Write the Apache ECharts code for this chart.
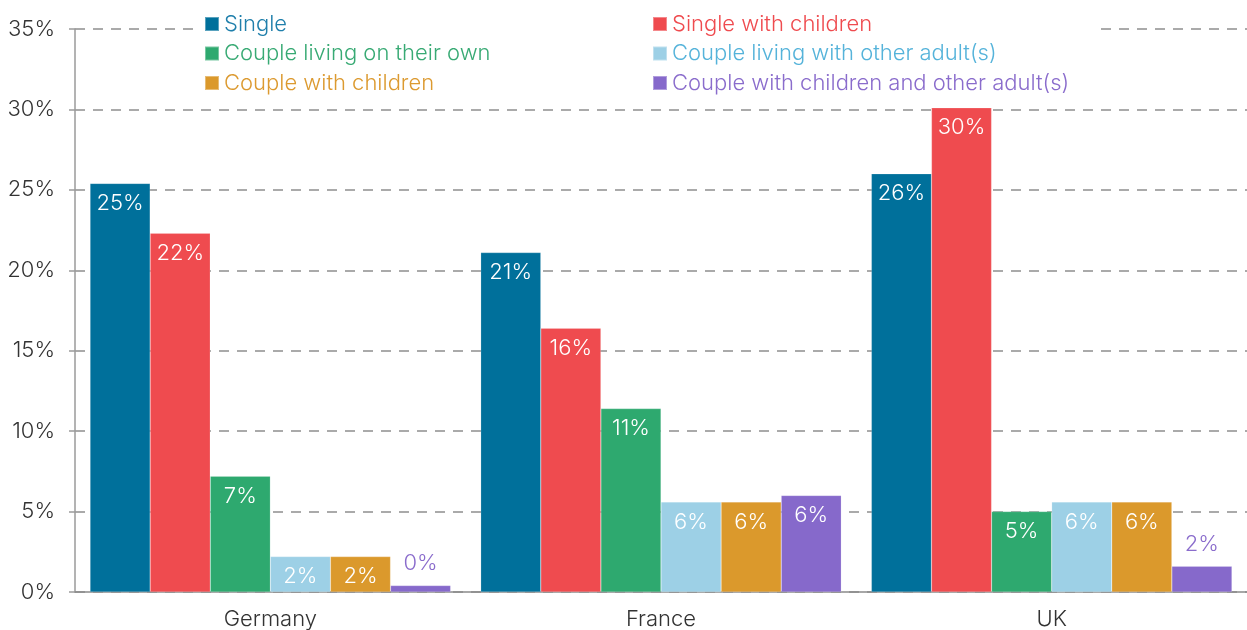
<!DOCTYPE html>
<html>
<head>
<meta charset="utf-8">
<title>Household types by country</title>
<script src="https://cdn.jsdelivr.net/npm/echarts@6/dist/echarts.min.js"></script>
<style>
  html, body { margin: 0; padding: 0; background: #fff; }
  #chart { width: 1247px; height: 630px; }
</style>
</head>
<body>
<div id="chart"></div>
<script>
// Share of households by type, per country (%)
const countries = ['Germany', 'France', 'UK'];
const seriesNames = [
  'Single',
  'Single with children',
  'Couple living on their own',
  'Couple living with other adult(s)',
  'Couple with children',
  'Couple with children and other adult(s)'
];
const single             = [25.4, 21.1, 26.0];
const singleWithChildren = [22.3, 16.4, 30.1];
const coupleOwn          = [7.2, 11.4, 5.0];
const coupleOtherAdults  = [2.2, 5.6, 5.6];
const coupleChildren     = [2.2, 5.6, 5.6];
const coupleChildrenOther = [0.4, 6.0, 1.6];
const yTicks = [0, 5, 10, 15, 20, 25, 30, 35];

const seriesValues = [single, singleWithChildren, coupleOwn, coupleOtherAdults, coupleChildren, coupleChildrenOther];
const barColors  = ['#00709b', '#ef4b4f', '#2ea96f', '#9dd0e6', '#db992c', '#8669cb'];
const textColors = ['#1f7fab', '#ef4b4f', '#38aa74', '#55b3da', '#dc9a30', '#8a6ccc'];

const FONT = 'Inter, Roboto, sans-serif';
const FS = 22;
const chart = echarts.init(document.getElementById('chart'), null, { renderer: 'canvas' });

function legendBlock(indices, left) {
  return {
    orient: 'vertical',
    left: left,
    top: 13,
    itemWidth: 14,
    itemHeight: 14,
    itemGap: 7.5,
    icon: 'rect',
    selectedMode: false,
    padding: 0,
    textStyle: { fontFamily: FONT, fontSize: FS, fontWeight: 300, lineHeight: 22 },
    data: indices.map(i => ({ name: seriesNames[i], textStyle: { color: textColors[i] } }))
  };
}

const series = seriesNames.map((name, si) => ({
  name: name,
  type: 'bar',
  barGap: '0%',
  barCategoryGap: '7.7%',
  itemStyle: { color: barColors[si], borderColor: 'rgba(255,255,255,0.35)', borderWidth: 0.5 },
  label: {
    show: true,
    position: 'insideTop',
    distance: 9,
    color: '#fff',
    fontFamily: FONT,
    fontSize: FS,
    fontWeight: 300,
    formatter: p => Math.round(p.value) + '%'
  },
  data: seriesValues[si].map(v => v < 2
    ? { value: v, label: { position: 'top', distance: 11, color: textColors[si] } }
    : v)
}));

chart.setOption({
  animation: false,
  backgroundColor: '#fff',
  grid: { left: 75, right: 0, top: 29, bottom: 38, containLabel: false },
  graphic: [{
    type: 'rect',
    z: 1,
    shape: { x: 196, y: 6, width: 898, height: 90 },
    style: { fill: '#fff' }
  }],
  legend: [legendBlock([0, 2, 4], 204), legendBlock([1, 3, 5], 652)],
  xAxis: {
    type: 'category',
    data: countries,
    axisLine: { show: true, lineStyle: { color: '#8a8a8a', width: 1.5 } },
    axisTick: { show: false },
    axisLabel: { color: '#333', fontFamily: FONT, fontSize: FS, fontWeight: 300, margin: 16 }
  },
  yAxis: {
    type: 'value',
    min: yTicks[0],
    max: yTicks[yTicks.length - 1],
    interval: yTicks[1] - yTicks[0],
    axisLine: { show: true, lineStyle: { color: '#9a9a9a', width: 1.5 } },
    axisTick: { show: true, length: 6, lineStyle: { color: '#9a9a9a', width: 1.5 } },
    axisLabel: { color: '#333', fontFamily: FONT, fontSize: FS, fontWeight: 300, margin: 20, formatter: '{value}%' },
    splitLine: { show: true, lineStyle: { color: '#aaaaaa', width: 2, type: [10, 8] } }
  },
  series: series
});
</script>
</body>
</html>
